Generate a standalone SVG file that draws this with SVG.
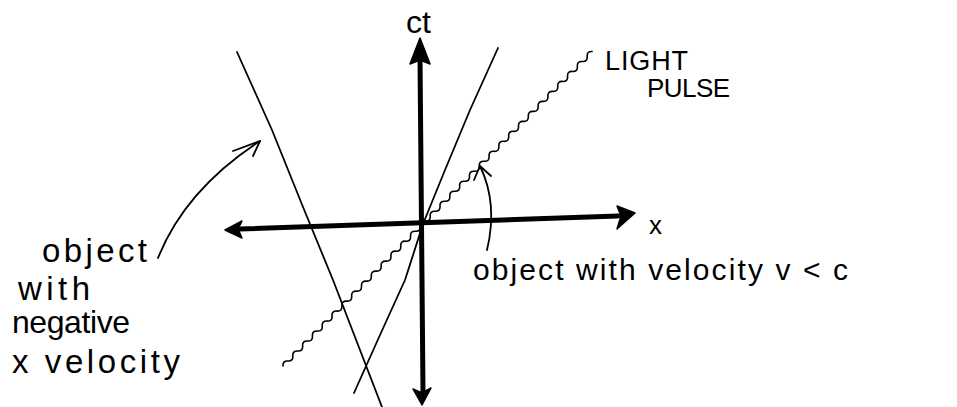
<svg xmlns="http://www.w3.org/2000/svg" width="957" height="407" viewBox="0 0 957 407">
<style>
.ink{fill:none;stroke:#000;stroke-linecap:round;stroke-linejoin:round}
.thin{stroke-width:1.8}
.axis{stroke-width:5}
.head{fill:#000;stroke:#000;stroke-width:1.5;stroke-linejoin:round}
.hand{font-family:"Liberation Sans","DejaVu Sans",sans-serif;fill:#000;font-weight:normal}
</style>
<rect width="957" height="407" fill="#fff"/>
<g id="axes">
<path class="ink axis" d="M420,58 L423,392"/>
<path class="head" d="M420,38 L430,64 L420,60 L410,64 Z"/>
<path class="head" d="M422,405 L413,389 L422,393 L431,388 Z"/>
<path class="ink axis" d="M240,229 L618,216"/>
<path class="head" d="M225,230 L242,221 L238,229 L242,238 Z"/>
<path class="head" d="M635,213 L617,206 L621,216 L617,229 Z"/>
</g>
<g id="worldlines">
<polyline id="fast-object" class="ink thin" points="498,48 470,110 445,170 423,224 405,280 380,335 354,393"/>
<polyline id="negative-object" class="ink thin" points="237,52 272,130 303,207 333,280 382,407"/>
<path id="light-pulse" class="ink" stroke-width="1.6" transform="translate(283,366) rotate(-45.5)" d="M0,0 q3.5,-4 7,0 t7,0t7,0t7,0t7,0t7,0t7,0t7,0t7,0t7,0 t7,0t7,0t7,0t7,0t7,0t7,0t7,0t7,0t7,0t7,0 t7,0t7,0t7,0t7,0t7,0t7,0t7,0t7,0t7,0t7,0 t7,0t7,0t7,0t7,0t7,0t7,0t7,0t7,0t7,0t7,0 t7,0t7,0t7,0t7,0t7,0t7,0t7,0t7,0t7,0t7,0 t7,0t7,0t7,0t7,0t7,0t7,0t7,0t7,0t7,0t7,0 t7,0t7,0t7,0"/>
</g>
<g id="connectors">
<path class="ink thin" d="M158,258 Q185,190 260,141"/>
<path class="ink thin" d="M233,151 L260,141 L253,156"/>
<path class="ink thin" d="M487,250 C493,225 494,195 480,166"/>
<path class="ink thin" d="M474,180 L480,166 L491,176"/>
</g>
<g id="labels">
<text class="hand" x="406" y="33" font-size="32">ct</text>
<text class="hand" x="649" y="234" font-size="26">x</text>
<text class="hand" x="605" y="70" font-size="27" textLength="83" lengthAdjust="spacing">LIGHT</text>
<text class="hand" x="647" y="97" font-size="26" textLength="83" lengthAdjust="spacing">PULSE</text>
<text class="hand" x="473" y="280" font-size="30" textLength="375" lengthAdjust="spacing">object with velocity v &lt; c</text>
<text class="hand" x="42" y="262" font-size="33" textLength="105" lengthAdjust="spacing">object</text>
<text class="hand" x="18" y="300" font-size="33" textLength="72" lengthAdjust="spacing">with</text>
<text class="hand" x="12" y="333" font-size="32" textLength="118" lengthAdjust="spacing">negative</text>
<text class="hand" x="12" y="373" font-size="33" textLength="168" lengthAdjust="spacing">x velocity</text>
</g>
</svg>
